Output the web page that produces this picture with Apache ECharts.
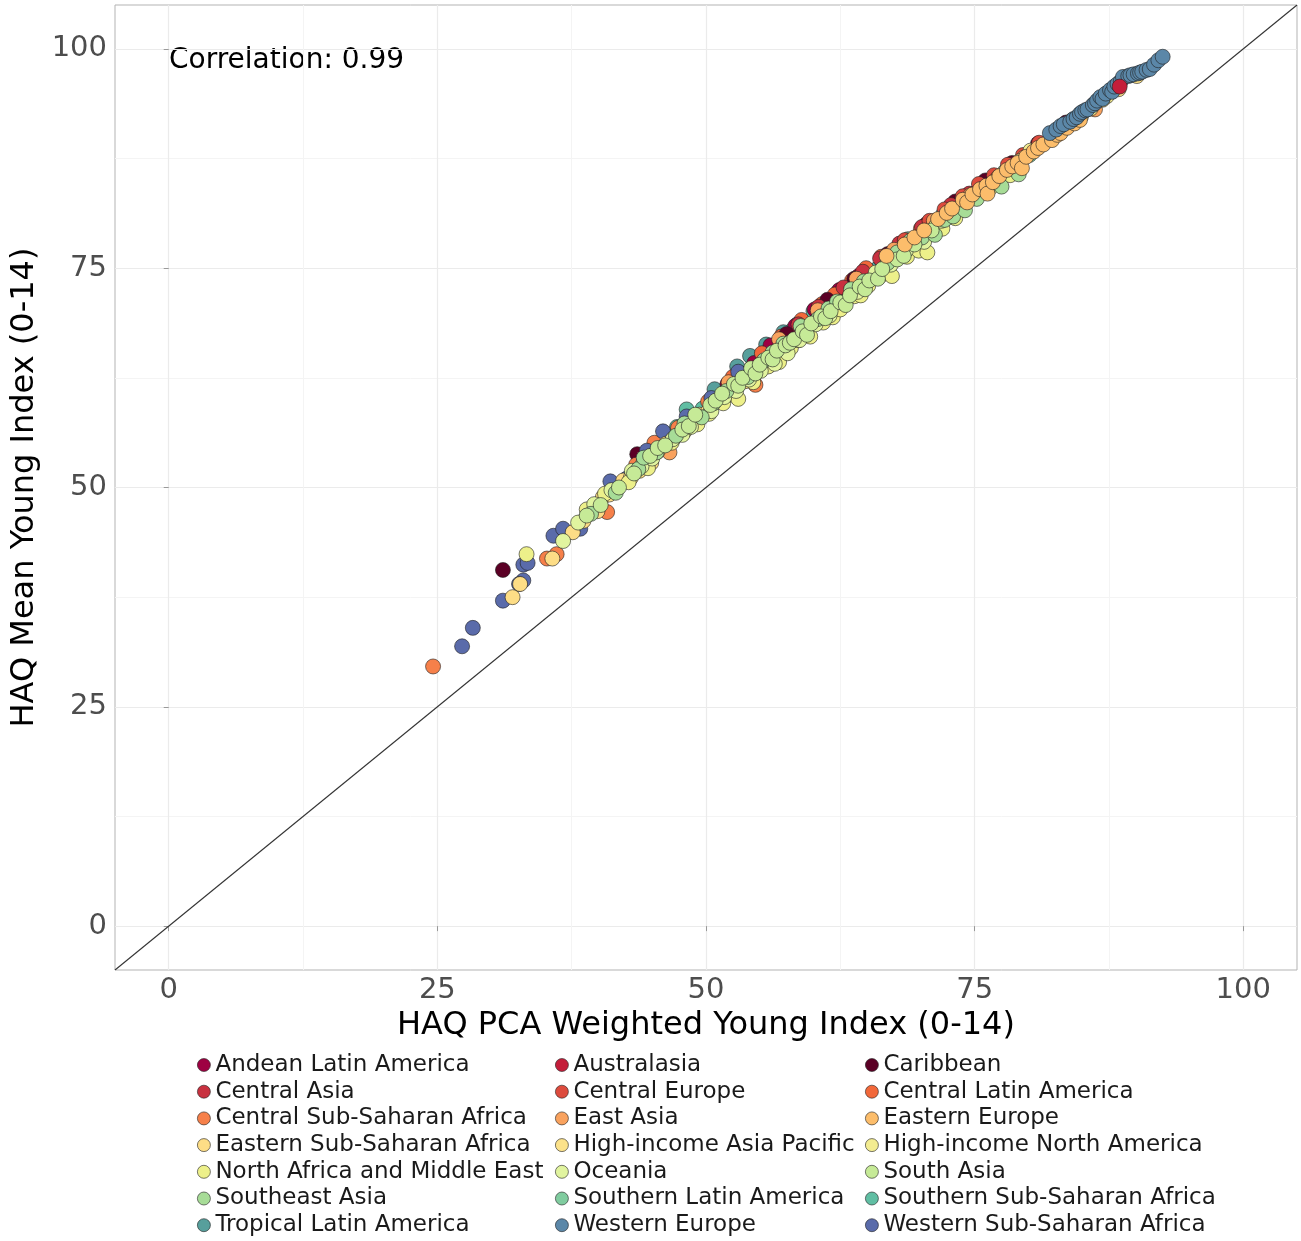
<!DOCTYPE html>
<html>
<head>
<meta charset="utf-8">
<script src="https://cdn.jsdelivr.net/npm/echarts@6/dist/echarts.min.js"></script>
<style>
  html, body { margin: 0; padding: 0; background: #fff; }
  #chart { width: 1301px; height: 1241px; }
</style>
</head>
<body>
<div id="chart"></div>
<script>
// region names (legend order) and colours
const regionNames = [
  'Andean Latin America', 'Australasia', 'Caribbean',
  'Central Asia', 'Central Europe', 'Central Latin America',
  'Central Sub-Saharan Africa', 'East Asia', 'Eastern Europe',
  'Eastern Sub-Saharan Africa', 'High-income Asia Pacific', 'High-income North America',
  'North Africa and Middle East', 'Oceania', 'South Asia',
  'Southeast Asia', 'Southern Latin America', 'Southern Sub-Saharan Africa',
  'Tropical Latin America', 'Western Europe', 'Western Sub-Saharan Africa'
];
const regionColors = [
  '#9e0142', '#c41e3a', '#5b0025',
  '#c8313f', '#dd4b3d', '#f2683a',
  '#f6804a', '#f9a25e', '#fcbd6b',
  '#fddd86', '#fce28a', '#f3ec91',
  '#edf08a', '#e1f49f', '#c6ea97',
  '#a7dc97', '#80cc9f', '#60bea3',
  '#579f9c', '#5b87a8', '#5a6baa'
];

// [PCA weighted index, mean index]
const andeanLatinAmerica = [[52,61.8],[54.5,64.2],[56,66.2],[58.3,68.4],[60.1,70.3],[62.4,72.5],[64.2,74.1],[66.5,76.2],[68.3,77.9],[70.2,79.6],[72.5,81.6],[74.1,83.1]];
const australasia = [[88.5,95.7]];
const caribbean = [[31.1,40.6],[43.6,53.8],[48.5,58.0],[53.2,63.0],[57.5,67.5],[61.3,71.4],[63.8,73.8],[66.9,76.6],[70.5,80.0],[73.2,82.6],[76.0,85.0],[78.5,87.0],[80.9,89.2],[83.5,91.6]];
const centralAsia = [[58.6,68.6],[60.5,70.6],[62.8,72.8],[64.6,74.6],[66.2,76.1],[68.0,77.8],[70.1,79.7],[72.8,82.2],[74.5,83.5]];
const centralEurope = [[68.5,78.2],[70.8,80.4],[72.2,81.7],[73.9,83.2],[75.4,84.6],[76.8,85.6],[78.1,86.8],[79.5,87.9],[81.0,89.3],[82.4,90.4]];
const centralLatinAmerica = [[52.5,62.6],[55.2,65.3],[57.0,67.2],[58.9,69.1],[60.8,70.9],[62.0,72.0],[63.6,73.6],[64.9,75.0],[66.3,76.3],[67.0,76.6],[68.1,77.6],[70.0,79.5]];
const centralSSA = [[24.6,29.6],[35.2,41.9],[36.1,42.4],[40.8,47.2],[43.5,52.6],[45.2,55.1],[47.4,56.8],[50.2,59.8],[54.6,61.7],[57.1,66.5]];
const eastAsia = [[46.6,54.0],[52.1,62.0],[56.8,66.9],[60.4,70.2],[64.0,73.8],[67.5,77.1],[71.2,80.4],[74.6,83.3],[77.2,85.4],[79.6,87.6],[82.8,90.4],[84.6,91.9],[86.2,93.1]];
const easternEurope = [[66.8,76.4],[68.5,77.7],[69.4,78.5],[70.3,79.3],[71.6,80.6],[72.4,81.3],[72.9,81.8],[73.9,82.8],[74.3,82.5],[74.8,83.4],[75.5,84.0],[76.1,84.4],[76.2,83.5],[76.7,84.8],[77.3,85.5],[78.0,86.2],[78.5,86.6],[79.0,87.0],[79.4,86.4],[79.8,87.7],[80.5,88.3],[80.9,88.7],[81.4,89.1],[82.2,89.6],[82.7,90.2],[83.0,90.4],[83.6,91.0],[84.3,91.5],[84.8,91.9]];
const easternSSA = [[32.0,37.5],[32.7,39.0],[35.7,41.9],[37.6,44.9],[38.6,46.2],[39.6,47.6],[39.9,47.3],[40.4,48.9],[41.0,49.2],[41.5,49.6],[42.3,50.8],[43.0,51.1],[43.8,51.9],[44.2,53.0],[44.9,52.8],[45.5,54.1],[46.3,55.0],[47.0,55.6],[48.3,57.0],[49.4,58.3],[50.2,58.7],[51.0,59.9],[52.3,60.6],[53.6,62.1],[56.2,64.9],[58.9,67.2],[61.5,69.8]];
const hiAsiaPacific = [[72.5,81.0],[75.8,84.1],[79.2,87.2],[82.1,89.8],[84.9,92.3],[86.9,94.2],[88.4,95.4],[90.1,96.9]];
const hiNorthAmerica = [[80.2,88.4],[82.9,90.7],[84.1,91.9],[85.8,93.2],[87.3,94.6]];
const northAfricaMiddleEast = [[33.3,42.4],[38.9,47.5],[40.6,49.3],[42.8,50.6],[44.6,52.2],[46.8,55.1],[48.0,56.4],[49.2,57.2],[50.3,58.4],[51.6,59.6],[53.0,60.1],[54.4,62.0],[55.8,63.8],[56.8,64.3],[57.9,65.9],[58.6,66.8],[59.7,67.2],[60.9,68.8],[61.8,69.4],[62.5,70.3],[63.8,71.8],[64.4,71.9],[65.1,73.0],[66.2,74.1],[67.3,74.1],[68.7,76.3],[69.8,77.0],[70.6,76.8],[71.4,79.8],[72.0,79.5],[73.2,80.7],[74.0,81.9],[76.5,84.2],[78.3,85.6]];
const oceania = [[36.7,43.9],[38.1,46.0],[39.6,48.1],[41.2,49.7],[43.1,51.9],[44.0,52.4],[45.0,53.3],[46.9,55.5],[47.8,56.0],[48.6,56.9],[50.5,58.7],[51.7,60.3],[52.8,61.0],[54.0,62.3],[55.1,63.3],[56.4,64.1],[57.6,65.3],[58.7,66.8],[60.2,68.6],[61.5,69.6],[62.9,71.0],[64.1,72.3],[65.8,74.5],[67.2,75.4],[68.6,77.0],[70.3,78.0],[71.9,80.4]];
const southAsia = [[38.9,46.8],[40.2,48.0],[41.9,50.0],[43.3,51.6],[44.8,53.6],[45.5,54.5],[46.2,54.8],[47.8,56.6],[48.4,57.0],[49.0,58.3],[50.4,59.4],[50.9,59.9],[51.5,60.7],[52.6,61.8],[53.0,61.6],[53.4,62.5],[54.2,63.6],[54.6,63.0],[55.0,64.0],[55.8,64.8],[56.2,64.6],[56.6,65.6],[57.4,66.2],[57.8,66.5],[58.2,66.9],[59.0,67.8],[59.4,67.4],[59.8,68.7],[60.7,69.5],[61.1,69.3],[61.6,70.1],[62.5,71.1],[63.0,70.8],[63.4,71.9],[64.3,72.9],[64.8,72.6],[65.2,73.6],[66.0,73.8],[66.4,74.9],[67.8,76.0],[68.4,76.4],[69.4,77.7],[71.0,79.3]];
const southeastAsia = [[39.3,47.0],[41.6,49.4],[43.7,52.1],[44.2,53.4],[45.4,54.0],[47.2,55.9],[48.0,57.3],[49.6,58.0],[50.7,59.6],[51.9,61.0],[53.9,62.6],[55.4,64.5],[56.2,65.4],[57.2,66.4],[58.8,68.4],[60.4,69.2],[61.4,70.4],[62.2,71.2],[63.5,72.6],[64.7,73.5],[66.9,75.6],[67.8,76.8],[69.0,78.1],[70.1,78.5],[71.3,78.8],[72.2,80.5],[73.0,80.9],[74.1,81.6],[75.2,82.9],[76.3,84.3],[77.5,84.3],[79.1,85.7]];
const southernLatinAmerica = [[70.2,79.4],[72.1,81.2],[73.8,82.2],[75.5,84.1],[77.8,86.0],[80.1,87.9],[82.3,89.9]];
const southernSSA = [[44.9,53.5],[47.3,56.9],[48.2,58.9],[49.7,59.0],[52.0,61.6],[54.4,64.0],[56.3,66.0],[58.0,67.9],[60.0,70.1],[62.3,72.3],[64.5,74.3],[66.6,76.0],[68.8,78.3]];
const tropicalLatinAmerica = [[50.8,61.2],[52.9,63.8],[54.1,65.0],[55.6,66.3],[57.2,67.7],[58.5,68.6],[60.3,70.1],[62.2,71.4],[64.0,73.4],[65.9,74.9],[67.6,76.6]];
const westernEurope = [[82.0,90.4],[82.6,90.8],[83.0,91.2],[83.3,91.4],[83.9,91.7],[84.2,92.0],[84.5,92.2],[84.8,92.6],[85.0,92.8],[85.3,93.0],[85.5,93.1],[86.0,93.6],[86.2,93.8],[86.4,94.1],[86.7,94.5],[86.9,94.3],[87.2,94.9],[87.6,95.3],[87.8,95.1],[88.0,95.7],[88.3,96.0],[88.6,96.3],[88.8,96.8],[89.3,96.9],[89.5,97.0],[89.8,97.1],[90.2,97.2],[90.4,97.3],[90.6,97.4],[91.0,97.6],[91.3,97.7],[91.7,98.2],[92.1,98.7],[92.5,99.1]];
const westernSSA = [[27.3,31.9],[28.3,34.0],[31.1,37.1],[33.0,39.4],[32.6,39.0],[33.0,41.2],[33.4,41.4],[35.8,44.5],[36.7,45.3],[38.3,45.3],[41.1,50.7],[42.6,51.0],[44.5,54.2],[46.0,56.4],[48.2,58.1],[50.5,60.2],[53.0,63.2]];

const regionData = [
  andeanLatinAmerica, australasia, caribbean,
  centralAsia, centralEurope, centralLatinAmerica,
  centralSSA, eastAsia, easternEurope,
  easternSSA, hiAsiaPacific, hiNorthAmerica,
  northAfricaMiddleEast, oceania, southAsia,
  southeastAsia, southernLatinAmerica, southernSSA,
  tropicalLatinAmerica, westernEurope, westernSSA
];

// order in which the regions are painted (later = on top)
const drawOrder = [
  'Southern Latin America', 'Southern Sub-Saharan Africa', 'Tropical Latin America',
  'Andean Latin America', 'Central Latin America', 'Caribbean', 'Central Asia',
  'Central Europe', 'Central Sub-Saharan Africa', 'East Asia', 'Western Sub-Saharan Africa',
  'High-income North America', 'High-income Asia Pacific', 'Eastern Sub-Saharan Africa',
  'North Africa and Middle East', 'Oceania', 'Southeast Asia', 'South Asia',
  'Eastern Europe', 'Western Europe', 'Australasia'
];

const axisMin = -5;
const axisMax = 105;
const majorTicks = [0, 25, 50, 75, 100];
const minorTicks = [12.5, 37.5, 62.5, 87.5];
const correlationText = 'Correlation: 0.99';

const chart = echarts.init(document.getElementById('chart'));

const FONT = 'DejaVu Sans';

function valueAxis(name, isX) {
  return {
    type: 'value',
    min: axisMin,
    max: axisMax,
    name: name,
    nameLocation: 'middle',
    nameGap: isX ? 34 : 68,
    nameTextStyle: { fontFamily: FONT, fontSize: 32, color: '#000' },
    axisLine: { show: false },
    axisTick: { show: true, length: 5, customValues: majorTicks, lineStyle: { color: '#999', width: 1 } },
    axisLabel: { customValues: majorTicks, fontFamily: FONT, fontSize: 29, color: '#4d4d4d', margin: isX ? 6 : 8 },
    splitLine: { show: true, lineStyle: { color: '#ebebeb', width: 1.2 } }
  };
}

function minorAxis() {
  return {
    type: 'value',
    min: axisMin,
    max: axisMax,
    axisLine: { show: false },
    axisTick: { show: false, customValues: minorTicks },
    axisLabel: { show: false, customValues: minorTicks },
    splitLine: { show: true, lineStyle: { color: '#f4f4f4', width: 1 } }
  };
}

const series = drawOrder.map((name) => {
  const i = regionNames.indexOf(name);
  return {
    name: name,
    type: 'scatter',
    xAxisIndex: 0,
    yAxisIndex: 0,
    data: regionData[i],
    symbolSize: 15,
    z: 3,
    itemStyle: { color: regionColors[i], borderColor: 'rgba(30,30,30,0.75)', borderWidth: 0.8, opacity: 1 }
  };
});

// identity line y = x
series.push({
  name: 'identity',
  type: 'line',
  xAxisIndex: 0,
  yAxisIndex: 0,
  data: [[axisMin, axisMin], [axisMax, axisMax]],
  symbol: 'none',
  silent: true,
  z: 2,
  lineStyle: { color: '#333', width: 1.1 }
});

function legendColumn(col, left) {
  return {
    orient: 'vertical',
    left: left,
    top: 1052,
    data: regionNames.filter((n, i) => i % 3 === col),
    icon: 'circle',
    itemWidth: 13,
    itemHeight: 13,
    itemGap: 0.7,
    padding: 0,
    itemStyle: { borderColor: 'rgba(30,30,30,0.75)', borderWidth: 0.8 },
    textStyle: { fontFamily: FONT, fontSize: 23, color: '#1a1a1a', lineHeight: 26 },
    selectedMode: false
  };
}

chart.setOption({
  animation: false,
  backgroundColor: '#fff',
  grid: {
    left: 115, right: 4, top: 5, bottom: 271,
    show: true, borderColor: '#b3b3b3', borderWidth: 1, backgroundColor: 'transparent'
  },
  xAxis: [valueAxis('HAQ PCA Weighted Young Index (0-14)', true), minorAxis()],
  yAxis: [valueAxis('HAQ Mean Young Index (0-14)', false), minorAxis()],
  legend: [legendColumn(0, 197), legendColumn(1, 555), legendColumn(2, 865)],
  graphic: [{
    type: 'text',
    left: 169,
    top: 47,
    style: { text: correlationText, fontFamily: FONT, fontSize: 28, fill: '#000' }
  }],
  series: series
});
</script>
</body>
</html>
